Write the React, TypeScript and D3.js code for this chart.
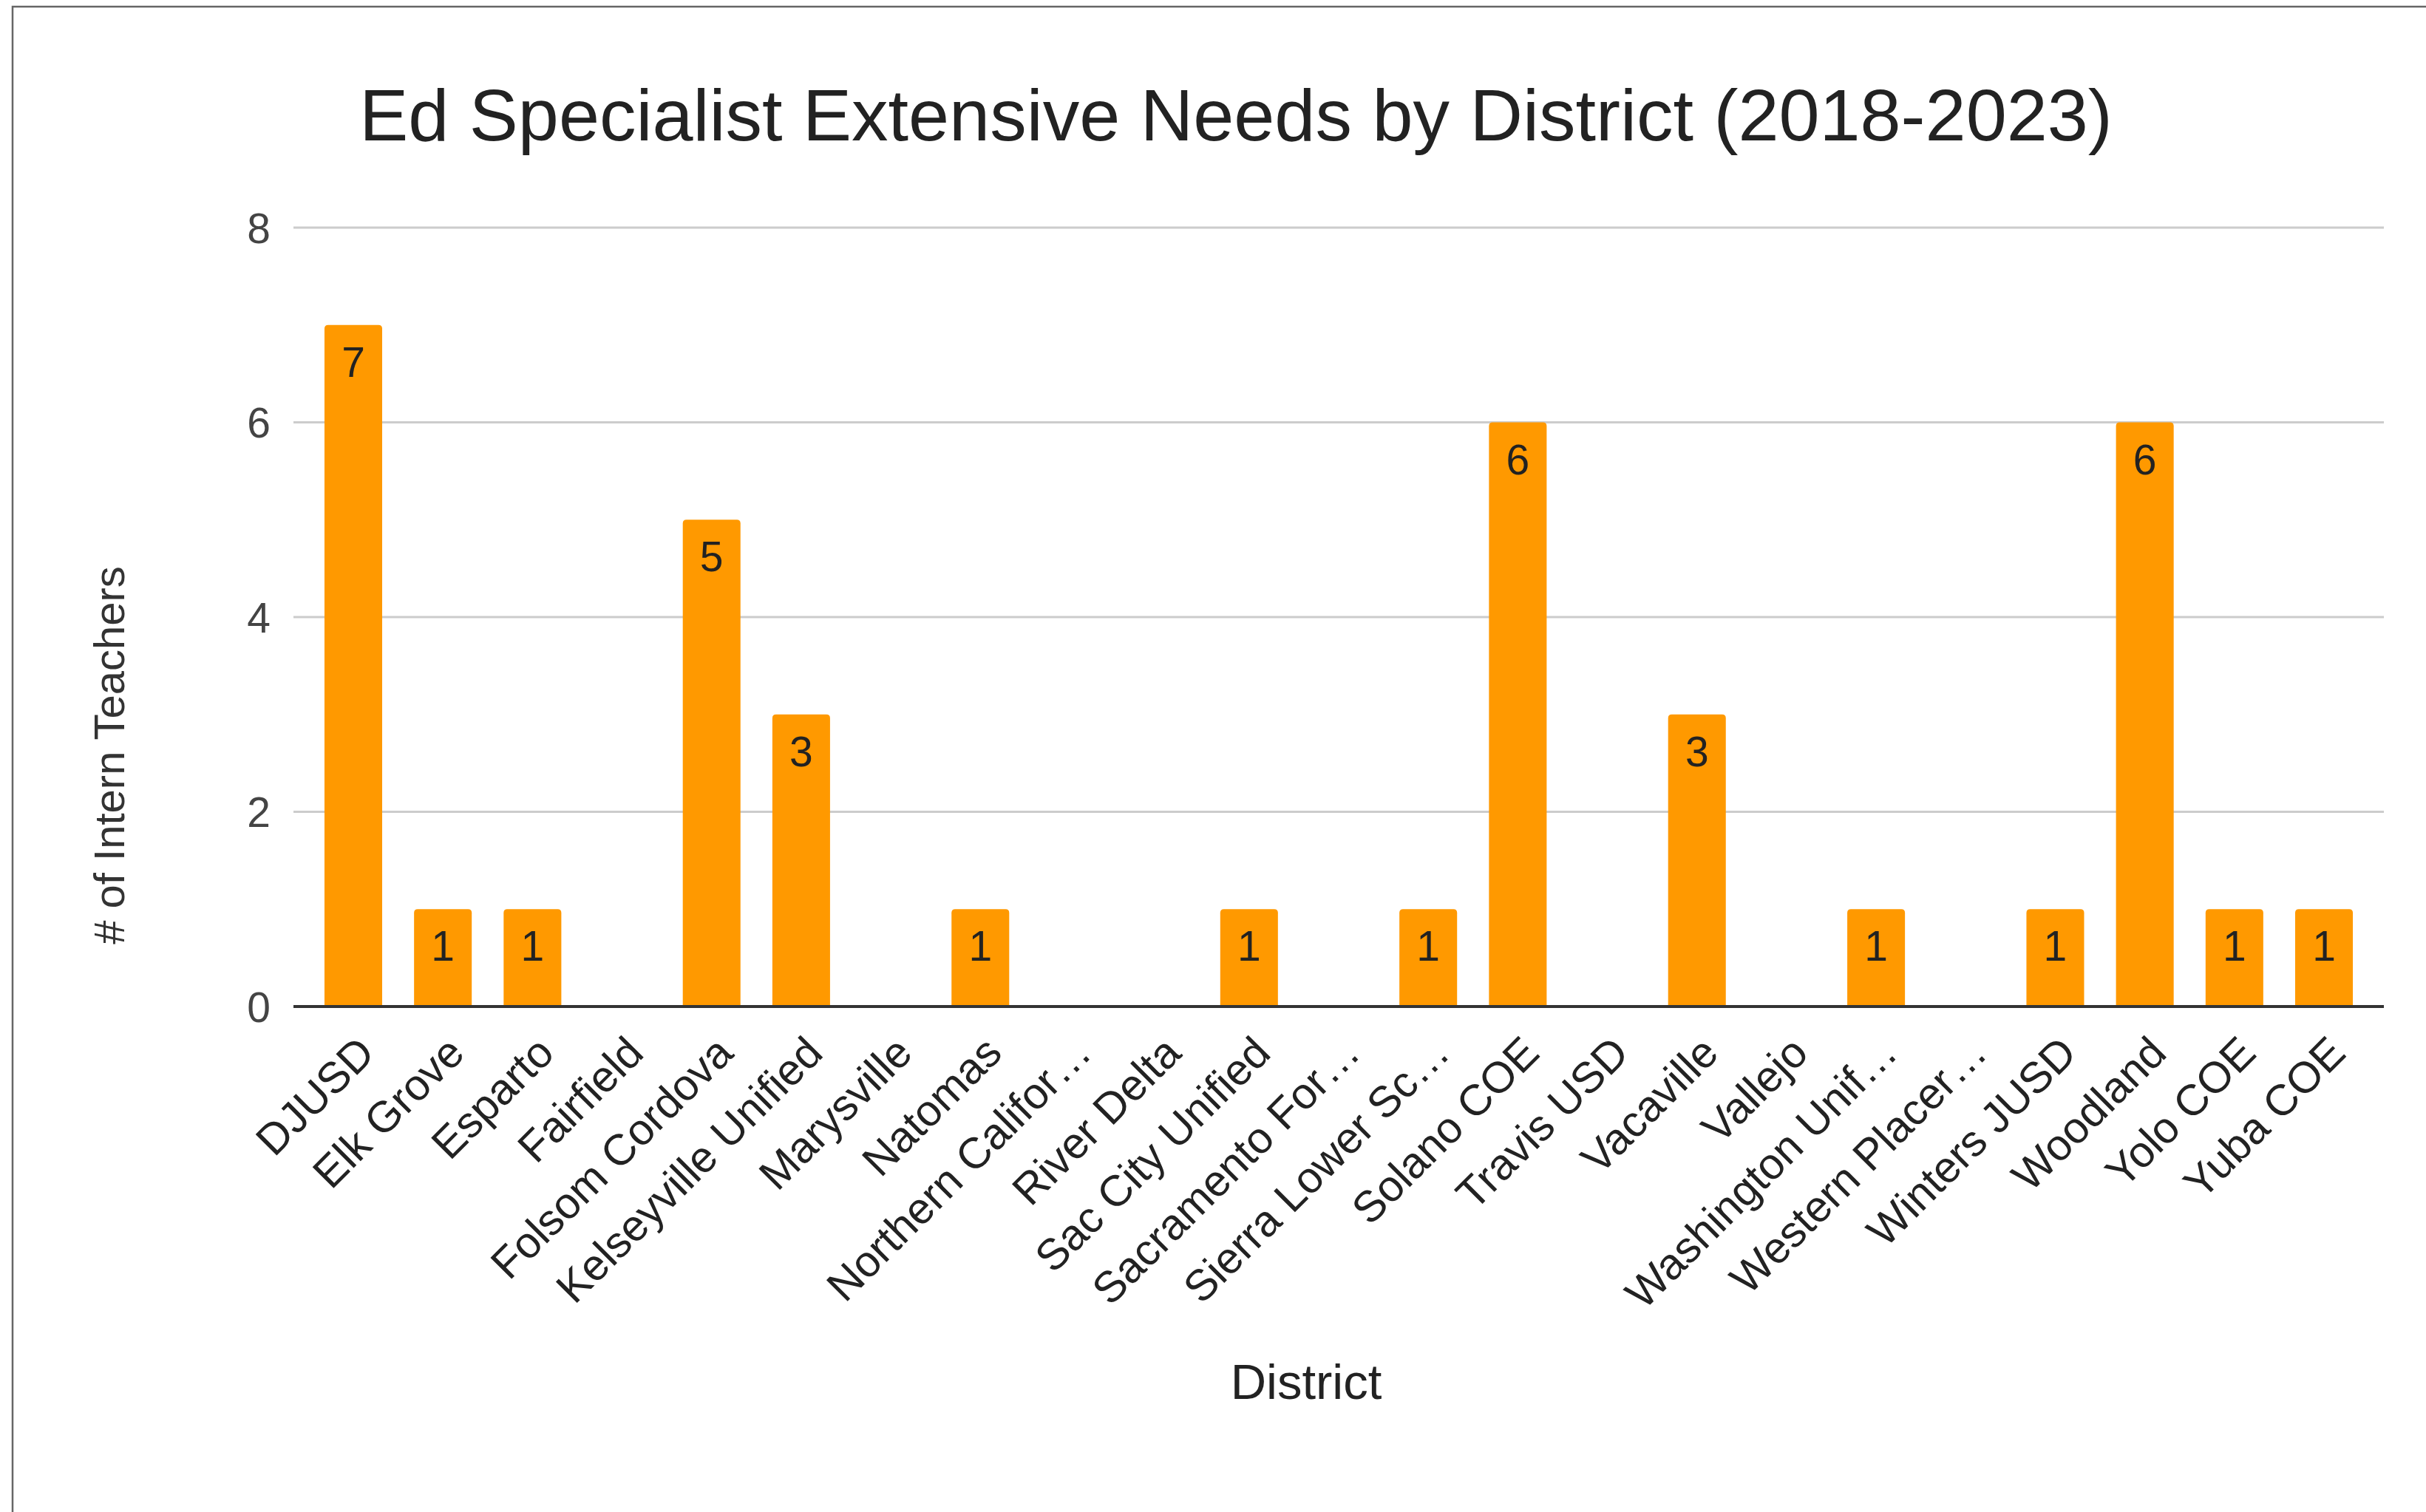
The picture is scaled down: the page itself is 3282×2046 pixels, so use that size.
import React from "react";
import * as d3 from "d3";

const title = "Ed Specialist Extensive Needs by District (2018-2023)";
const xAxisTitle = "District";
const yAxisTitle = "# of Intern Teachers";

const districts = [
  "DJUSD",
  "Elk Grove",
  "Esparto",
  "Fairfield",
  "Folsom Cordova",
  "Kelseyville Unified",
  "Marysville",
  "Natomas",
  "Northern Califor…",
  "River Delta",
  "Sac City Unified",
  "Sacramento For…",
  "Sierra Lower Sc…",
  "Solano COE",
  "Travis USD",
  "Vacaville",
  "Vallejo",
  "Washington Unif…",
  "Western Placer…",
  "Winters JUSD",
  "Woodland",
  "Yolo COE",
  "Yuba COE",
];

const teachers = [7, 1, 1, 0, 5, 3, 0, 1, 0, 0, 1, 0, 1, 6, 0, 3, 0, 1, 0, 1, 6, 1, 1];

const yTicks = [0, 2, 4, 6, 8];

const W = 3282;
const H = 2046;
const FONT = "'Liberation Sans', Arial, Helvetica, sans-serif";
const BAR = "#ff9900";

export default function App() {
  const plotLeft = 397;
  const plotRight = 3225;
  const plotTop = 308;
  const plotBottom = 1362;

  const x = d3
    .scaleBand<string>()
    .domain(districts)
    .range([417.4, 3204.6])
    .paddingInner(0.356)
    .paddingOuter(0.178);

  const y = d3.scaleLinear().domain([0, 8]).range([plotBottom, plotTop]);

  const bw = x.bandwidth();
  const r = 5;

  const barPath = (x0: number, top: number, bottom: number, w: number) => {
    const rr = Math.min(r, (bottom - top) / 2);
    const p = d3.path();
    p.moveTo(x0, bottom);
    p.lineTo(x0, top + rr);
    p.quadraticCurveTo(x0, top, x0 + rr, top);
    p.lineTo(x0 + w - rr, top);
    p.quadraticCurveTo(x0 + w, top, x0 + w, top + rr);
    p.lineTo(x0 + w, bottom);
    p.closePath();
    return p.toString();
  };

  return (
    <svg
      width={W}
      height={H}
      viewBox={`0 0 ${W} ${H}`}
      style={{ position: "absolute", left: 0, top: 0, background: "#fff" }}
      fontFamily={FONT}
    >
      <rect x={0} y={0} width={W} height={H} fill="#ffffff" />
      {/* outer frame */}
      <rect x={17} y={9} width={W + 50} height={H + 50} fill="none" stroke="#666" strokeWidth={2.5} />

      {/* title */}
      <text x={1672} y={190} textAnchor="middle" fontSize={99} fill="#222">
        {title}
      </text>

      {/* gridlines */}
      {yTicks
        .filter((t) => t !== 0)
        .map((t) => (
          <line
            key={"g" + t}
            x1={plotLeft}
            x2={plotRight}
            y1={y(t)}
            y2={y(t)}
            stroke="#cccccc"
            strokeWidth={3}
          />
        ))}

      {/* y tick labels */}
      {yTicks.map((t) => (
        <text
          key={"yt" + t}
          x={366}
          y={y(t)}
          dy="0.36em"
          textAnchor="end"
          fontSize={57}
          fill="#444"
        >
          {t}
        </text>
      ))}

      {/* bars */}
      {districts.map((d, i) =>
        teachers[i] > 0 ? (
          <path key={"b" + d} d={barPath(x(d)!, y(teachers[i]), y(0), bw)} fill={BAR} />
        ) : null
      )}

      {/* baseline */}
      <line x1={plotLeft} x2={plotRight} y1={y(0)} y2={y(0)} stroke="#333" strokeWidth={4} />

      {/* data labels */}
      {districts.map((d, i) =>
        teachers[i] > 0 ? (
          <text
            key={"l" + d}
            x={x(d)! + bw / 2}
            y={y(teachers[i]) + 70}
            textAnchor="middle"
            fontSize={57}
            fill="#222"
          >
            {teachers[i]}
          </text>
        ) : null
      )}

      {/* x tick labels */}
      {districts.map((d) => {
        const cx = x(d)! + bw / 2;
        return (
          <text
            key={"xt" + d}
            transform={`translate(${cx + 32},${1428}) rotate(-45)`}
            textAnchor="end"
            fontSize={59}
            fill="#222"
          >
            {d}
          </text>
        );
      })}

      {/* axis titles */}
      <text x={1767} y={1893} textAnchor="middle" fontSize={67} fill="#222">
        {xAxisTitle}
      </text>
      <text
        transform={`translate(168,1022) rotate(-90)`}
        textAnchor="middle"
        fontSize={58}
        fill="#333"
      >
        {yAxisTitle}
      </text>
    </svg>
  );
}
